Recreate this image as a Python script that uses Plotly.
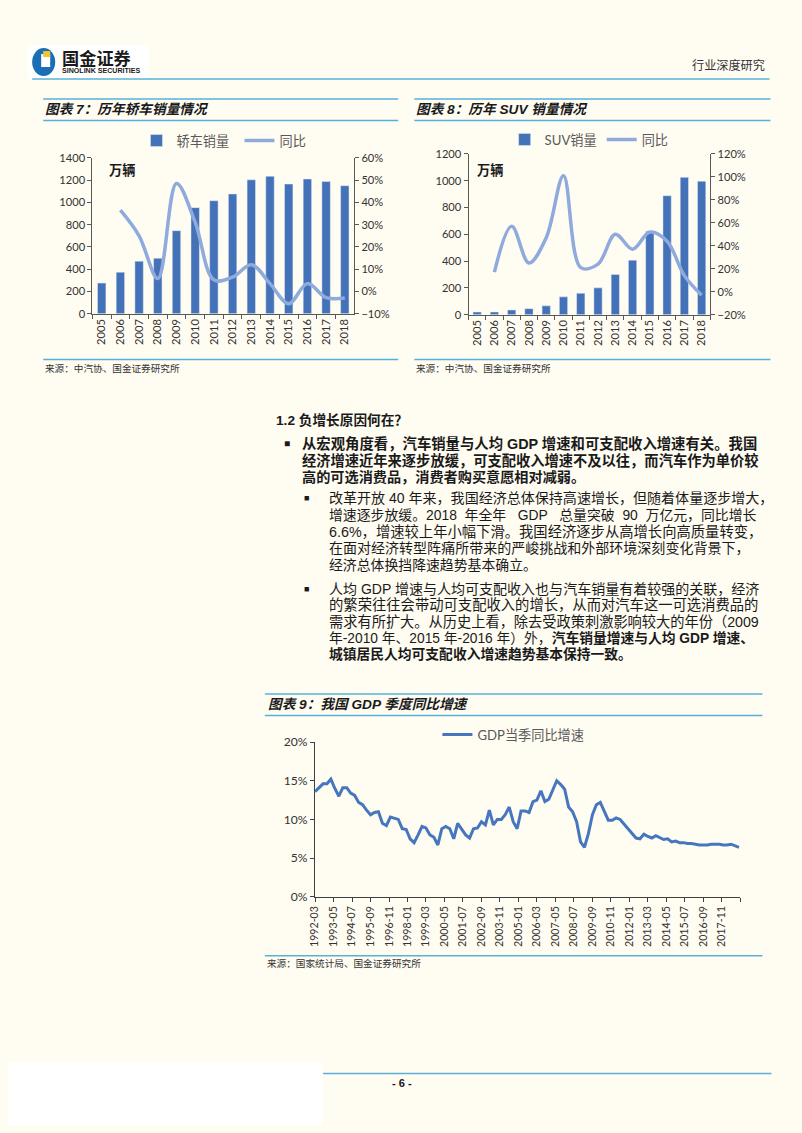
import pandas as pd
import plotly.graph_objects as go

# page is 802x1133; the figure sits inside the default 8px body margin
PAGE_W, PAGE_H = 802, 1133
OFF = 8
W, H = PAGE_W - 2 * OFF, PAGE_H - 2 * OFF
# the photographed page comes out slightly inset/shrunk; target coordinates
# below are in reference-picture pixels and get mapped back through this
SHOT_A, SHOT_S = 7.0, 0.988
FS = 1 / SHOT_S

BG = '#FFFCF2'
RULE = '#58B0D9'
BAR = '#4472B8'
YOY = '#8FAADC'
GDP_C = '#4676BE'
AXIS = '#595959'
TXT = '#1a1a1a'
BODY = 'Liberation Sans, Noto Sans CJK SC'
TICKF = 'Lato, Noto Sans CJK SC'
NB = '\u00a0'

# ---- data ----
years = ['2005', '2006', '2007', '2008', '2009', '2010', '2011',
         '2012', '2013', '2014', '2015', '2016', '2017', '2018']
sedan_sales = [275, 373, 472, 498, 746, 953, 1015, 1076, 1203, 1235, 1165, 1210, 1188, 1150]
sedan_yoy = [36.5, 25, 5.8, 48.5, 31, 5.2, 6.4, 12, 3.5, -5.5, 3.5, -2.8, -3]   # 2006-2018
suv_sales = [20, 20, 35, 45, 66, 133, 160, 200, 300, 407, 622, 888, 1025, 996]
suv_yoy = [17, 57, 25, 47, 101, 21, 24, 50, 37, 52, 44, 14, -3]                   # 2006-2018

gdp_yoy = [
    13.6, 14.1, 14.6, 14.6,   # 1992
    15.2, 14.0, 13.0, 14.1,   # 1993
    14.1, 13.4, 13.1, 12.2,   # 1994
    11.9, 11.2, 10.6, 10.9,   # 1995
    11.0, 9.5, 9.2, 10.3,     # 1996
    10.1, 10.0, 8.8, 8.7,     # 1997
    7.5, 7.0, 8.0, 9.1,       # 1998
    8.9, 8.0, 7.7, 6.7,       # 1999
    8.8, 9.1, 8.8, 7.5,       # 2000
    9.5, 8.7, 8.0, 7.6,       # 2001
    8.8, 8.9, 9.7, 9.3,       # 2002
    11.2, 9.3, 10.0, 10.0,    # 2003
    10.6, 11.6, 9.7, 8.8,     # 2004
    11.1, 11.1, 10.9, 12.3,   # 2005
    12.5, 13.7, 12.3, 12.6,   # 2006
    13.8, 15.0, 14.5, 13.9,   # 2007
    11.6, 11.0, 9.7, 7.1,     # 2008
    6.4, 8.2, 10.6, 11.9,     # 2009
    12.2, 11.0, 9.9, 9.9,     # 2010
    10.2, 10.0, 9.4, 8.7,     # 2011
    8.1, 7.6, 7.5, 8.1,       # 2012
    7.8, 7.6, 7.9, 7.7,       # 2013
    7.4, 7.5, 7.1, 7.2,       # 2014
    7.0, 7.0, 6.9, 6.9,       # 2015
    6.8, 6.7, 6.7, 6.7,       # 2016
    6.8, 6.8, 6.8, 6.7,       # 2017
    6.7, 6.8, 6.6, 6.4,       # 2018
]
gdp_quarters = pd.date_range('1992-03-01', periods=len(gdp_yoy), freq='3MS')
gdp_tick_labels = ['1992-03', '1993-05', '1994-07', '1995-09', '1996-11', '1998-01',
                   '1999-03', '2000-05', '2001-07', '2002-09', '2003-11', '2005-01',
                   '2006-03', '2007-05', '2008-07', '2009-09', '2010-11', '2012-01',
                   '2013-03', '2014-05', '2015-07', '2016-09', '2017-11']


# reference pixel -> paper fraction
def px(x):
    return ((x - SHOT_A) / SHOT_S - OFF) / W


def py(y):
    return 1 - ((y - SHOT_A) / SHOT_S - OFF) / H


def fs(size):
    return round(size * FS, 2)


# ---- traces ----
fig = go.Figure()
fig.add_trace(go.Bar(x=years, y=sedan_sales, name='轿车销量', marker_color=BAR, width=0.45,
                     xaxis='x', yaxis='y', legend='legend'))
fig.add_trace(go.Scatter(x=years[1:], y=sedan_yoy, name='同比', mode='lines',
                         line=dict(color=YOY, width=3.5, shape='spline', smoothing=1),
                         xaxis='x', yaxis='y2', legend='legend'))
fig.add_trace(go.Bar(x=years, y=suv_sales, name='SUV销量', marker_color=BAR, width=0.48,
                     xaxis='x2', yaxis='y3', legend='legend2'))
fig.add_trace(go.Scatter(x=years[1:], y=suv_yoy, name='同比', mode='lines',
                         line=dict(color=YOY, width=3.5, shape='spline', smoothing=1),
                         xaxis='x2', yaxis='y4', legend='legend2'))
fig.add_trace(go.Scatter(x=gdp_quarters, y=gdp_yoy, name='GDP当季同比增速', mode='lines',
                         line=dict(color=GDP_C, width=3),
                         xaxis='x3', yaxis='y5', legend='legend3'))


def ax(**kw):
    d = dict(showline=True, linecolor=AXIS, linewidth=1, ticks='outside', ticklen=4,
             tickcolor=AXIS, showgrid=False, zeroline=False, fixedrange=True,
             tickfont=dict(family=TICKF, size=fs(11), color='#333333'))
    d.update(kw)
    return d


def leg(x, y, entry=0):
    return dict(orientation='h', x=px(x), y=py(y), xanchor='left', yanchor='middle',
                bgcolor='rgba(0,0,0,0)', itemwidth=30, entrywidth=entry,
                font=dict(family=TICKF, size=fs(13), color='#595959'))


fig.update_layout(
    width=W, height=H, autosize=False,
    margin=dict(l=0, r=0, t=0, b=0),
    paper_bgcolor=BG, plot_bgcolor='rgba(0,0,0,0)',
    font=dict(family=BODY, color=TXT),
    # chart 7
    xaxis=ax(domain=[px(92), px(353)], anchor='y', type='category', tickangle=-90,
             tickson='boundaries'),
    yaxis=ax(domain=[py(313), py(157)], anchor='x', range=[0, 1400], dtick=200),
    yaxis2=ax(overlaying='y', anchor='x', side='right', range=[-10, 60], dtick=10,
              ticksuffix='%'),
    # chart 8
    xaxis2=ax(domain=[px(467), px(708)], anchor='y3', type='category', tickangle=-90,
              tickson='boundaries'),
    yaxis3=ax(domain=[py(314), py(153)], anchor='x2', range=[0, 1200], dtick=200),
    yaxis4=ax(overlaying='y3', anchor='x2', side='right', range=[-20, 120], dtick=20,
              ticksuffix='%'),
    # chart 9
    xaxis3=ax(domain=[px(314), px(738)], anchor='y5', type='date',
              range=['1992-03-01', '2019-01-01'], tickangle=-90, tickmode='array',
              tickvals=[t + '-01' for t in gdp_tick_labels] + ['2019-01-01'],
              ticktext=gdp_tick_labels + [''], linecolor='#404040', tickcolor='#404040',
              tickfont=dict(family=TICKF, size=fs(10.5), color='#333333')),
    yaxis5=ax(domain=[py(897), py(742)], anchor='x3', range=[0, 20], dtick=5,
              ticksuffix='%', linecolor='#404040', tickcolor='#404040',
              tickfont=dict(family=TICKF, size=fs(12), color='#333333')),
    legend=leg(136, 140, entry=58),
    legend2=leg(503, 139),
    legend3=leg(436, 735),
)

# ---- page furniture ----
shapes = []


def hline(x0, x1, y, color=RULE, w=1.5):
    shapes.append(dict(type='line', xref='paper', yref='paper', x0=px(x0), x1=px(x1),
                       y0=py(y), y1=py(y), line=dict(color=color, width=w)))


def rect(x0, y0, x1, y1, color, kind='rect', layer='below'):
    shapes.append(dict(type=kind, xref='paper', yref='paper', x0=px(x0), x1=px(x1),
                       y0=py(y1), y1=py(y0), fillcolor=color, line=dict(width=0),
                       layer=layer))


rect(0, 1063, 322, 1140, '#FFFFFF')
# logo
rect(28, 44, 148, 78, '#FFFFFF')
rect(32, 47, 55, 75, '#1B6DB4', kind='circle')
rect(41, 53, 50, 66, '#FFFFFF')
rect(43, 50, 50, 56, '#F0C330')
hline(32, 767, 78)
# chart 7 / 8 frames
for x0, x1 in [(43, 397), (413, 768)]:
    hline(x0, x1, 98)
    hline(x0, x1, 119.5)
    hline(x0, x1, 359)
# chart 9 frame
hline(264, 760, 694)
hline(264, 760, 715.5)
hline(264, 760, 956)
# footer
hline(322, 769, 1074)

ann = []


def text(x, y, s, size=14, color=TXT, family=BODY, anchor='left'):
    ann.append(dict(xref='paper', yref='paper', x=px(x), y=py(y), text=s, showarrow=False,
                    xanchor=anchor, yanchor='middle',
                    font=dict(family=family, size=fs(size), color=color)))


text(60, 58, '<b>国金证券</b>', size=17, color='#1a1a1a')
text(60, 69.5, '<b>SINOLINK SECURITIES</b>', size=7, color='#1a1a1a', family='Liberation Sans')
text(688, 64, '行业深度研究', size=12, color='#333333')

text(43, 108.5, '<b><i>图表 7：历年轿车销量情况</i></b>', size=13.5)
text(413, 108.5, '<b><i>图表 8：历年 SUV 销量情况</i></b>', size=13.5)
text(107, 170, '<b>万辆</b>', size=13)
text(473, 170, '<b>万辆</b>', size=13)
text(43, 368, '来源：中汽协、国金证券研究所', size=9.5, color='#333333')
text(413, 368, '来源：中汽协、国金证券研究所', size=9.5, color='#333333')

text(273, 419, '<b>1.2 负增长原因何在？</b>', size=13.5)

# body paragraphs: (text, font size) per line; sizes stretch lines to the justified width
text(281, 443, '■', size=10)
main_lines = [('从宏观角度看，汽车销量与人均 GDP 增速和可支配收入增速有关。我国', 14.2),
              ('经济增速近年来逐步放缓，可支配收入增速不及以往，而汽车作为单价较', 14.1),
              ('高的可选消费品，消费者购买意愿相对减弱。', 14.0)]
for i, (s, sz) in enumerate(main_lines):
    text(299, 443 + 17 * i, '<b>' + s + '</b>', size=sz)

text(301, 498, '■', size=9)
sub1 = [('改革开放 40 年来，我国经济总体保持高速增长，但随着体量逐步增大，', 13.87),
        ('增速逐步放缓。2018' + NB * 2 + '年全年' + NB * 3 + 'GDP' + NB * 3 + '总量突破'
         + NB * 2 + '90' + NB * 2 + '万亿元，同比增长', 13.7),
        ('6.6%，增速较上年小幅下滑。我国经济逐步从高增长向高质量转变，', 14.15),
        ('在面对经济转型阵痛所带来的严峻挑战和外部环境深刻变化背景下，', 13.85),
        ('经济总体换挡降速趋势基本确立。', 13.7)]
for i, (s, sz) in enumerate(sub1):
    text(326, 498 + 16.6 * i, s, size=sz)

text(301, 589, '■', size=9)
sub2 = [('人均 GDP 增速与人均可支配收入也与汽车销量有着较强的关联，经济', 13.85),
        ('的繁荣往往会带动可支配收入的增长，从而对汽车这一可选消费品的', 14.15),
        ('需求有所扩大。从历史上看，除去受政策刺激影响较大的年份（2009', 14.05),
        ('年-2010 年、2015 年-2016 年）外，<b>汽车销量增速与人均 GDP 增速、</b>', 13.6),
        ('<b>城镇居民人均可支配收入增速趋势基本保持一致。</b>', 13.6)]
for i, (s, sz) in enumerate(sub2):
    text(326, 589 + 16.2 * i, s, size=sz)

text(265, 704.5, '<b><i>图表 9：我国 GDP 季度同比增速</i></b>', size=13.5)
text(264, 964, '来源：国家统计局、国金证券研究所', size=9.5, color='#333333')
text(401, 1083, '<b>- 6 -</b>', size=11, family='Liberation Sans', anchor='center')

fig.update_layout(shapes=shapes, annotations=ann)
fig.write_html('out.html', config={'displayModeBar': False},
               post_script="document.body.style.background='" + BG + "';")
